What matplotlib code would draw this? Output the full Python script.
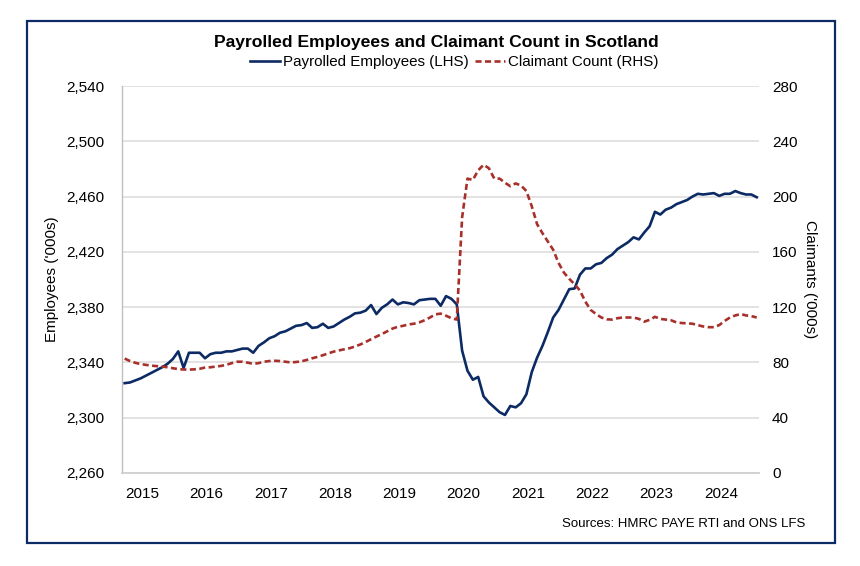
import matplotlib
matplotlib.use("Agg")
import matplotlib.pyplot as plt
import numpy as np
from matplotlib.patches import Rectangle
from matplotlib.ticker import FuncFormatter

plt.rcParams['font.family'] = ['Liberation Sans', 'DejaVu Sans']

# Monthly series (index 0 = first month shown)
employees = [
    2325, 2325.5, 2327, 2328.5, 2330.5, 2332.5, 2334.5, 2336.5, 2339, 2342.5,
    2348, 2336, 2347, 2347, 2347, 2343, 2346, 2347, 2347, 2348,
    2348, 2349, 2350, 2350, 2347, 2352, 2354.5, 2357.5, 2359, 2361.5,
    2362.5, 2364.5, 2366.5, 2367, 2368.5, 2365, 2365.5, 2368, 2365, 2366,
    2368.5, 2371, 2373, 2375.5, 2376, 2377.5, 2381.5, 2375, 2379.5, 2382,
    2385.5, 2382, 2383.5, 2383, 2382, 2385, 2385.5, 2386, 2386, 2381,
    2388, 2386, 2382, 2348.5, 2334, 2327.5, 2329.5, 2315.5, 2311, 2307.5,
    2304, 2302, 2308.5, 2307.5, 2310.5, 2317, 2333, 2343.5, 2352, 2362,
    2372.5, 2378, 2385.5, 2393, 2393.5, 2403.5, 2408, 2408, 2411, 2412,
    2415.5, 2418, 2422, 2424.5, 2427, 2430.5, 2429, 2434, 2438.5, 2449,
    2447, 2450.5, 2452, 2454.5, 2456, 2457.5, 2460, 2462, 2461.5, 2462,
    2462.5, 2460.5, 2462, 2462, 2464, 2462.5, 2461.5, 2461.5, 2459.5,
]

claimants = [
    82.8, 81, 79.7, 78.8, 78.2, 77.7, 77.3, 77, 76.5, 75.8,
    75.2, 74.9, 74.8, 75, 75.4, 76.3, 76.5, 77, 77.5, 78.3,
    79.5, 80.5, 80.5, 79.8, 79, 79.5, 80.5, 81, 81.2, 81,
    80.5, 80, 80.3, 80.8, 81.8, 83, 84, 85.2, 86.5, 87.8,
    88.7, 89.5, 90.3, 91.5, 93, 94.8, 96.8, 98.7, 100.5, 102.5,
    104.5, 105.8, 106.5, 107.5, 108, 109, 110.5, 112.5, 114.8, 115.3,
    113.8, 112, 111, 185, 213, 212, 219, 223, 220.5, 213,
    213, 210, 207.5, 209.5, 208, 204, 193, 180, 173.5, 167.5,
    161.5, 152, 145, 140.5, 136.5, 132, 124, 118, 115, 112.5,
    111.2, 111, 112, 112.5, 112.5, 112.5, 111.5, 109.5, 110.8, 113,
    111.5, 111, 110.5, 109, 108.5, 108.3, 108, 107, 106, 105.5,
    105.5, 107, 110, 112.5, 114, 115, 114, 113.5, 112.5,
]

year_labels = ['2015', '2016', '2017', '2018', '2019', '2020', '2021', '2022', '2023', '2024']

navy = '#0c2a63'
red = '#a8302b'
grid_c = '#dedede'

fig = plt.figure(figsize=(8.6, 5.66), dpi=100)

# outer border
fig.patches.append(Rectangle((27/860, 1-543/566), (835-27)/860, (543-21)/566,
                             transform=fig.transFigure, fill=False,
                             edgecolor='#0c2a63', linewidth=1.6, zorder=0))

ax = fig.add_axes([122/860, 1-473/566, (759.4-122)/860, (473-86)/566])
ax2 = ax.twinx()

n = len(employees)
x = np.arange(n)

l1, = ax.plot(x, employees, color=navy, linewidth=1.9, solid_joinstyle='round',
              label='Payrolled Employees (LHS)', zorder=3)
l2, = ax2.plot(x, claimants, color=red, linewidth=1.9, dashes=(2.3, 1.3),
               label='Claimant Count (RHS)', zorder=3)

ax.set_xlim(-0.5, n - 0.5)
ax.set_ylim(2260, 2540)
ax.set_yticks(np.arange(2260, 2541, 40))
ax.yaxis.set_major_formatter(FuncFormatter(lambda v, p: f'{int(v):,}'))
ax2.set_ylim(0, 280)
ax2.set_yticks(np.arange(0, 281, 40))

tick_pos = [3.3 + 12 * k for k in range(len(year_labels))]
ax.set_xticks(tick_pos)
ax.set_xticklabels(year_labels)

ax.grid(axis='y', color=grid_c, linewidth=1.2, zorder=0)
ax.set_axisbelow(True)

for a in (ax, ax2):
    for s in a.spines.values():
        s.set_visible(False)
ax.spines['left'].set_visible(True)
ax.spines['left'].set_color('#bfbfbf')
ax.spines['left'].set_linewidth(1.0)
ax.spines['bottom'].set_visible(True)
ax.spines['bottom'].set_color('#d0d0d0')
ax.spines['bottom'].set_linewidth(1.3)

ax.tick_params(axis='both', length=0, labelsize=11, colors='#000000')
ax.tick_params(axis='y', pad=13)
ax.tick_params(axis='x', pad=10)
ax2.tick_params(axis='y', length=0, labelsize=11, pad=9)

ax.set_ylabel("Employees ('000s)", fontsize=11, labelpad=5)
ax2.set_ylabel("Claimants ('000s)", fontsize=11, rotation=270, labelpad=14)

fig.text(436/860, 1-42/566, 'Payrolled Employees and Claimant Count in Scotland',
         ha='center', va='center', fontsize=12.6, fontweight='bold')

fig.legend(handles=[l1, l2], loc='center', bbox_to_anchor=(454/860, 1-62/566),
           ncol=2, frameon=False, fontsize=10.9, handlelength=2.0,
           handletextpad=0.2, columnspacing=0.4)

fig.text(805/860, 1-524/566, 'Sources: HMRC PAYE RTI and ONS LFS',
         ha='right', va='center', fontsize=9.5)

fig.savefig('out.png', dpi=100)
